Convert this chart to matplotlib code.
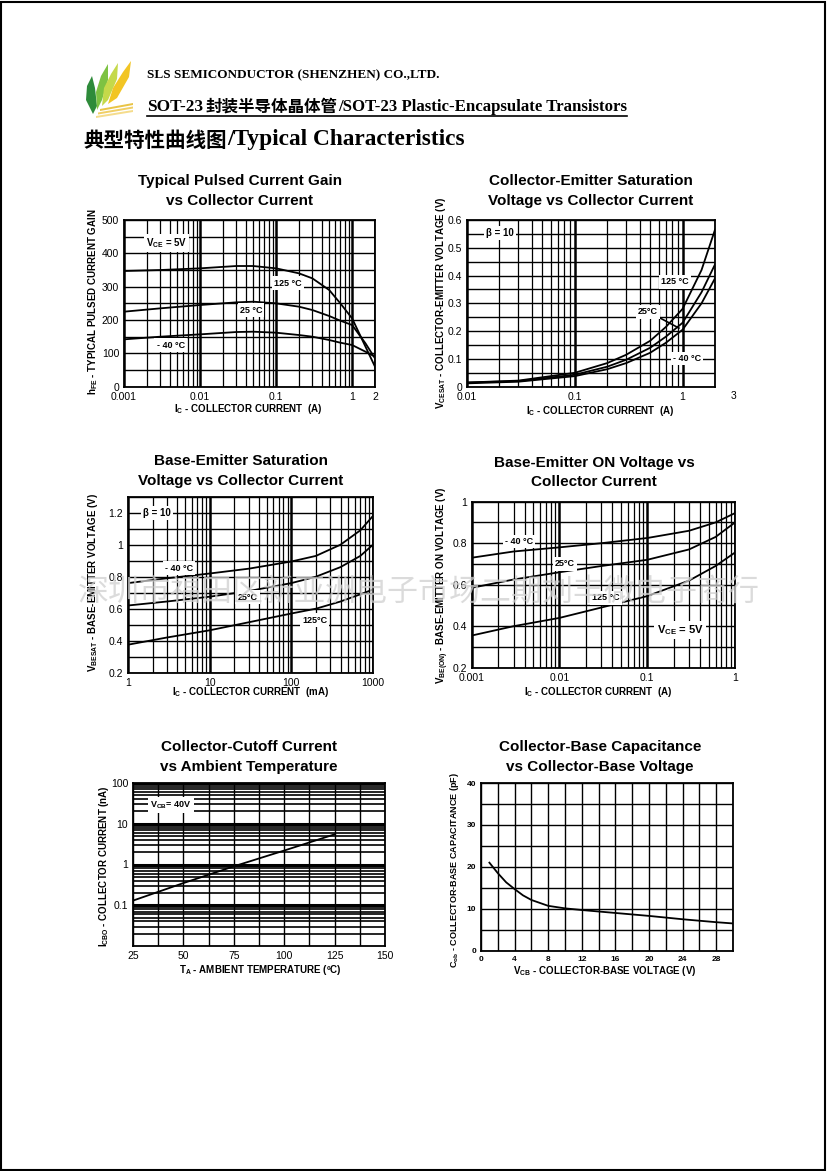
import numpy as np
import matplotlib.pyplot as plt
from matplotlib.ticker import LogLocator, MultipleLocator, NullFormatter
from matplotlib.patches import Rectangle, Polygon
from matplotlib.lines import Line2D

plt.rcParams['font.family'] = ['Liberation Sans', 'DejaVu Sans']
plt.rcParams['mathtext.default'] = 'regular'

W, H = 828, 1171

# --- chart 1: hFE vs Ic (A) ---
hfe_ic = [0.001, 0.003, 0.01, 0.03, 0.05, 0.1, 0.2, 0.3, 0.5, 0.7, 1.0, 1.5, 2.0]
hfe_125 = [347, 350, 355, 362, 362, 355, 340, 325, 290, 250, 205, 120, 60]
hfe_25 = [225, 235, 245, 253, 255, 250, 240, 230, 212, 198, 185, 130, 85]
hfe_m40 = [142, 150, 157, 164, 165, 162, 155, 150, 140, 132, 125, 105, 90]

# --- chart 2: VCE(sat) vs Ic (A) ---
vce_ic = [0.01, 0.03, 0.1, 0.2, 0.3, 0.5, 0.7, 1.0, 1.5, 2.0]
vce_125 = [0.015, 0.022, 0.05, 0.085, 0.115, 0.165, 0.215, 0.28, 0.42, 0.565]
vce_25 = [0.015, 0.02, 0.043, 0.072, 0.097, 0.14, 0.18, 0.23, 0.34, 0.44]
vce_m40 = [0.012, 0.018, 0.038, 0.063, 0.085, 0.122, 0.158, 0.205, 0.30, 0.39]

# --- chart 3: VBE(sat) vs Ic (mA) ---
vbs_ic = [1, 3, 10, 30, 100, 200, 400, 700, 1000]
vbs_m40 = [0.76, 0.79, 0.82, 0.85, 0.895, 0.93, 1.0, 1.09, 1.18]
vbs_25 = [0.62, 0.645, 0.675, 0.71, 0.76, 0.80, 0.86, 0.93, 1.0]
vbs_125 = [0.375, 0.42, 0.465, 0.515, 0.57, 0.60, 0.645, 0.69, 0.72]

# --- chart 4: VBE(on) vs Ic (A) ---
von_ic = [0.001, 0.003, 0.01, 0.03, 0.1, 0.3, 0.6, 1.0]
von_m40 = [0.73, 0.76, 0.78, 0.80, 0.825, 0.86, 0.90, 0.945]
von_25 = [0.585, 0.625, 0.66, 0.69, 0.72, 0.77, 0.83, 0.90]
von_125 = [0.355, 0.40, 0.44, 0.49, 0.545, 0.62, 0.69, 0.755]

# --- chart 5: ICBO vs TA ---
icbo_t = [25, 50, 75, 100, 125]
icbo_na = [0.13, 0.35, 0.9, 2.2, 5.5]

# --- chart 6: Cob vs VCB ---
cob_v = [1, 2, 3, 4, 5, 6, 8, 10, 12, 16, 20, 24, 28, 30]
cob_pf = [21, 18.5, 16.3, 14.7, 13.2, 12.1, 10.7, 10.1, 9.7, 9.0, 8.3, 7.5, 6.8, 6.5]

fig = plt.figure(figsize=(W / 100, H / 100), dpi=100)


def fx(x):
    return x / W


def fy(y):
    return 1 - y / H


def make_ax(l, t, r, b):
    return fig.add_axes([l / W, 1 - b / H, (r - l) / W, (b - t) / H])


def style(ax, tsize=7.5):
    for s in ax.spines.values():
        s.set_linewidth(1.3)
        s.set_color('black')
    ax.tick_params(which='both', length=0, labelsize=tsize, pad=3.5, colors='black')
    ax.set_axisbelow(True)


def log_x(ax, lo, hi, ticks, labels):
    ax.set_xscale('log')
    ax.set_xlim(lo, hi)
    ax.set_xticks(ticks, labels)
    ax.xaxis.set_minor_locator(LogLocator(base=10, subs=np.arange(2, 10)))
    ax.xaxis.set_minor_formatter(NullFormatter())
    ax.grid(True, which='major', axis='x', color='black', lw=1.8)
    ax.grid(True, which='minor', axis='x', color='black', lw=0.9)


def lin_y(ax, lo, hi, step, minor, labels=None):
    ax.set_ylim(lo, hi)
    ticks = np.arange(lo, hi + 1e-9, step)
    if labels is None:
        ax.set_yticks(ticks)
    else:
        ax.set_yticks(ticks, labels)
    ax.yaxis.set_minor_locator(MultipleLocator(minor))
    ax.grid(True, which='both', axis='y', color='black', lw=1.0)


def title(x, y1, l1, l2, dy=20):
    fig.text(fx(x), fy(y1), l1, ha='center', va='center', fontsize=11, fontweight='bold')
    fig.text(fx(x), fy(y1 + dy), l2, ha='center', va='center', fontsize=11, fontweight='bold')


def xlab(x, y, s):
    fig.text(fx(x), fy(y), s, ha='center', va='center', fontsize=7, fontweight='bold')


def ylab(x, y, s, size=7):
    fig.text(fx(x), fy(y), s, ha='center', va='center', fontsize=size, fontweight='bold', rotation=90)


def tag(ax, x, y, s, size=6.5):
    ax.text(x, y, s, ha='center', va='center', fontsize=size, fontweight='bold',
            bbox=dict(facecolor='white', edgecolor='none', pad=1.5))


curve = dict(color='black', lw=1.3)

# ---------------- chart 1 ----------------
ax1 = make_ax(124, 220, 375, 386.7)
style(ax1)
log_x(ax1, 0.001, 2, [0.001, 0.01, 0.1, 1, 2], ['0.001', '0.01', '0.1', '1', '2'])
lin_y(ax1, 0, 500, 100, 50)
ax1.plot(hfe_ic, hfe_125, **curve)
ax1.plot(hfe_ic, hfe_25, **curve)
ax1.plot(hfe_ic, hfe_m40, **curve)
tag(ax1, 0.0036, 431, r'V$_{CE}$ = 5V', 7)
tag(ax1, 0.144, 311, '125 °C')
tag(ax1, 0.047, 230, '25 °C')
tag(ax1, 0.0041, 125, '- 40 °C')
title(240, 181, 'Typical Pulsed Current Gain', 'vs Collector Current')
xlab(248, 409, r'I$_{C}$ - COLLECTOR CURRENT  (A)')
ylab(93, 302, r'h$_{FE}$ - TYPICAL PULSED CURRENT GAIN')

# ---------------- chart 2 ----------------
ax2 = make_ax(467, 220, 715, 386.7)
style(ax2)
log_x(ax2, 0.01, 2, [0.01, 0.1, 1], ['0.01', '0.1', '1'])
lin_y(ax2, 0, 0.6, 0.1, 0.05, ['0', '0.1', '0.2', '0.3', '0.4', '0.5', '0.6'])
ax2.text(3, -0.027, '3', transform=ax2.get_xaxis_transform(), ha='center', va='top',
         fontsize=7.5, clip_on=False)
ax2.plot(vce_ic, vce_125, **curve)
ax2.plot(vce_ic, vce_25, **curve)
ax2.plot(vce_ic, vce_m40, **curve)
tag(ax2, 0.0203, 0.553, 'β = 10', 7)
tag(ax2, 0.85, 0.377, '125 °C')
tag(ax2, 0.476, 0.269, '25°C')
ax2.add_line(Line2D([0.6, 0.925], [0.25, 0.211], color='black', lw=1.2))
tag(ax2, 1.1, 0.103, '- 40 °C')
title(591, 181, 'Collector-Emitter Saturation', 'Voltage vs Collector Current')
xlab(600, 411, r'I$_{C}$ - COLLECTOR CURRENT  (A)')
ylab(441, 303, r'V$_{CESAT}$ - COLLECTOR-EMITTER VOLTAGE (V)')

# ---------------- chart 3 ----------------
ax3 = make_ax(128, 496.7, 373, 672.7)
style(ax3)
log_x(ax3, 1, 1000, [1, 10, 100, 1000], ['1', '10', '100', '1000'])
lin_y(ax3, 0.2, 1.3, 0.2, 0.1, ['0.2', '0.4', '0.6', '0.8', '1', '1.2'])
ax3.plot(vbs_ic, vbs_m40, **curve)
ax3.plot(vbs_ic, vbs_25, **curve)
ax3.plot(vbs_ic, vbs_125, **curve)
tag(ax3, 2.26, 1.198, 'β = 10', 7)
tag(ax3, 4.2, 0.854, '- 40 °C')
tag(ax3, 29, 0.673, '25°C')
tag(ax3, 194, 0.529, '125°C')
title(241, 461, 'Base-Emitter Saturation', 'Voltage vs Collector Current')
xlab(250, 692, r'I$_{C}$ - COLLECTOR CURRENT  (mA)')
ylab(93, 583, r'V$_{BESAT}$ - BASE-EMITTER VOLTAGE (V)')

# ---------------- chart 4 ----------------
ax4 = make_ax(471.7, 501.7, 735, 667.7)
style(ax4)
log_x(ax4, 0.001, 1, [0.001, 0.01, 0.1, 1], ['0.001', '0.01', '0.1', '1'])
lin_y(ax4, 0.2, 1.0, 0.2, 0.1, ['0.2', '0.4', '0.6', '0.8', '1'])
ax4.plot(von_ic, von_m40, **curve)
ax4.plot(von_ic, von_25, **curve)
ax4.plot(von_ic, von_125, **curve)
tag(ax4, 0.00346, 0.81, '- 40 °C')
tag(ax4, 0.0116, 0.70, '25°C')
tag(ax4, 0.034, 0.536, '125 °C')
tag(ax4, 0.236, 0.382, r'V$_{CE}$ = 5V', 8)
title(594, 463, 'Base-Emitter ON Voltage vs', 'Collector Current', dy=19)
xlab(598, 692, r'I$_{C}$ - COLLECTOR CURRENT  (A)')
ylab(443, 585, r'V$_{BE(ON)}$ - BASE-EMITTER ON VOLTAGE (V)')

# ---------------- chart 5 ----------------
ax5 = make_ax(133, 783, 385, 946)
style(ax5)
ax5.set_xlim(25, 150)
ax5.set_xticks([25, 50, 75, 100, 125, 150])
ax5.xaxis.set_minor_locator(MultipleLocator(12.5))
ax5.grid(True, which='both', axis='x', color='black', lw=1.0)
ax5.set_yscale('log')
ax5.set_ylim(0.01, 100)
ax5.set_yticks([0.1, 1, 10, 100], ['0.1', '1', '10', '100'])
ax5.yaxis.set_minor_locator(LogLocator(base=10, subs=np.arange(2, 10)))
ax5.yaxis.set_minor_formatter(NullFormatter())
ax5.grid(True, which='major', axis='y', color='black', lw=2.2)
ax5.grid(True, which='minor', axis='y', color='black', lw=1.2)
ax5.plot(icbo_t, icbo_na, **curve)
tag(ax5, 43.8, 29, r'V$_{CB}$= 40V')
title(249, 747, 'Collector-Cutoff Current', 'vs Ambient Temperature')
xlab(260, 970, r'T$_{A}$ - AMBIENT TEMPERATURE (ºC)')
ylab(104, 866, r'I$_{CBO}$ - COLLECTOR CURRENT (nA)')

# ---------------- chart 6 ----------------
ax6 = make_ax(481, 783, 733, 950.7)
style(ax6, tsize=6)
ax6.set_xlim(0, 30)
ax6.set_xticks(np.arange(0, 29, 4))
ax6.xaxis.set_minor_locator(MultipleLocator(2))
ax6.set_ylim(0, 40)
ax6.set_yticks([0, 10, 20, 30, 40])
ax6.yaxis.set_minor_locator(MultipleLocator(5))
ax6.grid(True, which='both', color='black', lw=1.0)
for lab in ax6.get_xticklabels() + ax6.get_yticklabels():
    lab.set_fontweight('bold')
ax6.plot(cob_v, cob_pf, **curve)
title(600, 747, 'Collector-Base Capacitance', 'vs Collector-Base Voltage')
xlab(605, 971, r'V$_{CB}$ - COLLECTOR-BASE VOLTAGE (V)')
ylab(455, 870, r'C$_{ob}$ - COLLECTOR-BASE CAPACITANCE (pF)', 6.5)

# ---------------- header ----------------
serif = ['Liberation Serif', 'Noto Sans CJK SC']
fig.text(fx(147), fy(75), 'SLS SEMICONDUCTOR (SHENZHEN) CO.,LTD.', ha='left', va='center',
         fontsize=9.5, fontweight='bold', family=serif)
fig.text(fx(147), fy(107), 'SOT-23', ha='left', va='center', fontsize=12.4, fontweight='bold', family=serif)
fig.text(fx(205), fy(107), '封装半导体晶体管', ha='left', va='center', fontsize=11.9, fontweight='bold',
         family=['Noto Sans CJK SC'])
fig.text(fx(338), fy(107), '/SOT-23 Plastic-Encapsulate Transistors', ha='left', va='center',
         fontsize=12.1, fontweight='bold', family=serif)
fig.add_artist(Line2D([fx(147), fx(627)], [fy(116), fy(116)], color='black', lw=1.2))
fig.text(fx(83), fy(140), '典型特性曲线图', ha='left', va='center', fontsize=14.8, fontweight='bold',
         family=['Noto Sans CJK SC'])
fig.text(fx(227), fy(140), '/Typical Characteristics', ha='left', va='center', fontsize=16.8,
         fontweight='bold', family=serif)

# logo
logo = fig.add_axes([fx(83), fy(119), 50 / W, 61 / H])
logo.set_xlim(0, 50)
logo.set_ylim(61, 0)
logo.axis('off')
for k, c in enumerate(['#f5dc8c', '#f0cf66', '#e9c446']):
    logo.add_patch(Polygon([[13 + k * 2, 58 - k * 3.5], [50, 52 - k * 3.5], [50, 54 - k * 3.5],
                            [13 + k * 2, 60 - k * 3.5]], closed=True, color=c, lw=0))
logo.add_patch(Polygon([[10, 56], [3, 42], [4, 28], [9, 18], [12, 30], [14, 48]], color='#2e8b3a', lw=0))
logo.add_patch(Polygon([[14, 52], [13, 34], [18, 18], [25, 6], [25, 22], [19, 42]], color='#7dc242', lw=0))
logo.add_patch(Polygon([[19, 48], [21, 30], [28, 16], [35, 5], [34, 21], [25, 42]], color='#c5d94a', lw=0))
logo.add_patch(Polygon([[25, 46], [30, 30], [40, 14], [48, 3], [46, 19], [34, 40]], color='#f2c524', lw=0))

# watermark
fig.text(fx(419), fy(592), '深圳市福田区新亚洲电子市场二期刘丰微电子商行', ha='center', va='center',
         fontsize=22.3, color='#d0d0d0', alpha=0.75, family=['Noto Sans CJK SC'], zorder=10)

# page border
fig.add_artist(Rectangle((fx(1.5), fy(1169.5)), (W - 4) / W, (H - 3) / H, fill=False,
                         edgecolor='black', lw=1.5))

fig.savefig('out.png', dpi=100)
